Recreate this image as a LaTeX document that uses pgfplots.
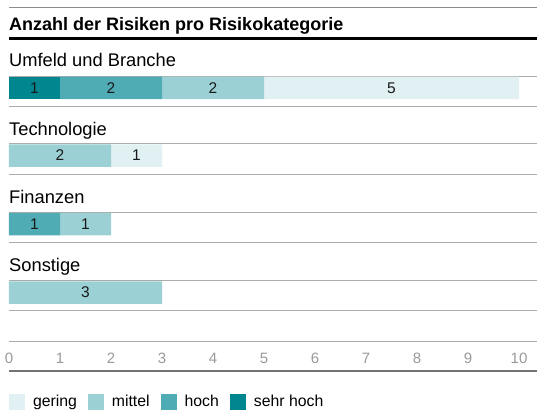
\documentclass[border=0pt]{standalone}
\usepackage{fontspec}
\setmainfont{Liberation Sans}
\usepackage{pgfplots}
\pgfplotsset{compat=1.18}

\definecolor{gering}{HTML}{E1F1F3}
\definecolor{mittel}{HTML}{9BD1D5}
\definecolor{hoch}{HTML}{4FACB5}
\definecolor{sehrhoch}{HTML}{00868F}
\definecolor{rule}{HTML}{ABABAB}

% both axes share the same frame: 1 y unit = 1pt
\pgfplotsset{
  frame/.style={
    width=528pt, height=363.5pt, scale only axis,
    xmin=0, xmax=10.353, ymin=47.5, ymax=411,
    clip=false,
  }
}

\begin{document}
\begin{tikzpicture}
% bars
\begin{axis}[frame,
  xbar stacked, bar width=22.5,
  axis line style={draw=none},
  xtick={0,...,10}, major tick length=0pt,
  ytick={77,108,138,176,206,244,275,312,342}, yticklabels={},
  ymajorgrids, grid style={rule, line width=0.9pt},
  tick label style={font=\fontsize{15}{15}\selectfont},
  xticklabel style={anchor=base, yshift=7pt, text=black!40},
  /pgf/number format/assume math mode=true,
]
\addplot[fill=sehrhoch, draw=none] coordinates {(1,330) (0,262.5) (0,194) (0,125.5)};
\addplot[fill=hoch, draw=none] coordinates {(2,330) (0,262.5) (1,194) (0,125.5)};
\addplot[fill=mittel, draw=none] coordinates {(2,330) (2,262.5) (1,194) (3,125.5)};
\addplot[fill=gering, draw=none] coordinates {(5,330) (1,262.5) (0,194) (0,125.5)};
\end{axis}

% rules, texts, value labels, legend
\begin{axis}[frame, hide axis,
  legend columns=-1,
  legend image code/.code={\fill[#1] (0pt,-8pt) rectangle (16pt,8pt);},
  legend style={at={(axis cs:0,24)}, anchor=north west, draw=none, fill=none,
    inner sep=0pt, outer sep=0pt, font=\fontsize{15.8}{16}\selectfont,
    legend cell align=left, nodes={inner sep=0pt},
    /tikz/every odd column/.append style={column sep=8pt},
    /tikz/every even column/.append style={column sep=11pt}},
]
\addplot[draw=black!45, line width=1.3pt, forget plot] coordinates {(0,410.7) (10.353,410.7)};
\addplot[draw=black, line width=2.7pt, forget plot] coordinates {(0,379.7) (10.353,379.7)};
\addplot[draw=black!55, line width=2pt, forget plot] coordinates {(0,47.5) (10.353,47.5)};

\addplot[draw=none, mark=none, forget plot, nodes near coords,
  point meta=explicit symbolic,
  nodes near coords style={anchor=center, inner sep=0pt, text=black!90,
    font=\fontsize{15.5}{15.5}\selectfont}]
  coordinates {(0.5,330)[1] (2,330)[2] (4,330)[2] (7.5,330)[5]
               (1,262.5)[2] (2.5,262.5)[1]
               (0.5,194)[1] (1.5,194)[1]
               (1.5,125.5)[3]};

\node[anchor=base west, inner sep=0pt, font=\bfseries\fontsize{18}{18}\selectfont]
  at (axis cs:0,387) {Anzahl der Risiken pro Risikokategorie};
\node[anchor=base west, inner sep=0pt, font=\fontsize{18.3}{18.3}\selectfont]
  at (axis cs:0,351.3) {Umfeld und Branche};
\node[anchor=base west, inner sep=0pt, font=\fontsize{18.3}{18.3}\selectfont]
  at (axis cs:0,283) {Technologie};
\node[anchor=base west, inner sep=0pt, font=\fontsize{18.3}{18.3}\selectfont]
  at (axis cs:0,214.7) {Finanzen};
\node[anchor=base west, inner sep=0pt, font=\fontsize{18.3}{18.3}\selectfont]
  at (axis cs:0,146.3) {Sonstige};

\addlegendimage{fill=gering, draw=none}
\addlegendentry{gering}
\addlegendimage{fill=mittel, draw=none}
\addlegendentry{mittel}
\addlegendimage{fill=hoch, draw=none}
\addlegendentry{hoch}
\addlegendimage{fill=sehrhoch, draw=none}
\addlegendentry{sehr hoch}
\end{axis}
\pgfresetboundingbox
\path[use as bounding box] (-9pt,-47.5pt) rectangle (528pt,370.5pt);
\end{tikzpicture}
\end{document}
